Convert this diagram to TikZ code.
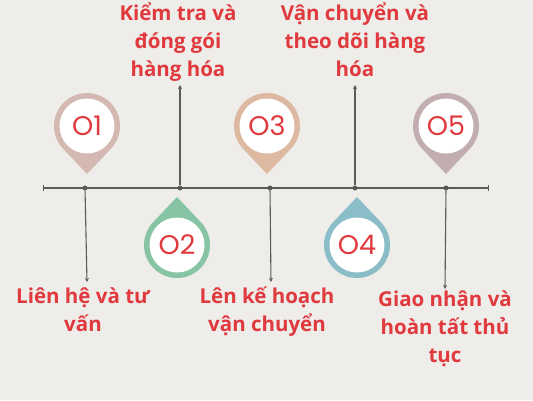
\documentclass[tikz,border=0pt]{standalone}
\usepackage{fontspec}
\setmainfont{Open Sans}
\newfontfamily\numfont{Poppins}
\usetikzlibrary{arrows.meta}
\definecolor{bg}{HTML}{EEEDE9}
\definecolor{axis}{HTML}{5A5A5A}
\definecolor{txtred}{HTML}{E0393E}
\definecolor{pinA}{HTML}{D3B9B2}
\definecolor{pinB}{HTML}{86C4A4}
\definecolor{pinC}{HTML}{DDB9A2}
\definecolor{pinD}{HTML}{8BBDC9}
\definecolor{pinE}{HTML}{C2ADB0}
\begin{document}
\begin{tikzpicture}[x=1pt,y=-1pt,
  pin/.pic={\fill (0,48) -- (136.6:33) arc[start angle=136.6,end angle=403.4,radius=33] -- cycle;
            \fill[white] (0,0) circle[radius=27.5];},
  num/.style={font=\numfont\fontsize{27}{27}\selectfont, text=txtred, inner sep=0pt},
  lbl/.style={font=\bfseries\fontsize{20.5}{28}\selectfont, text=txtred, align=center, inner sep=0pt, anchor=base},
  dot/.style={circle, fill=axis, minimum size=5pt, inner sep=0pt},
  conn/.style={draw=axis, line width=1.1pt, -{Stealth[length=4pt,width=4pt]}}]
\fill[bg] (0,0) rectangle (533,400);
\useasboundingbox (0,0) rectangle (533,400);
% timeline
\coordinate (tl) at (43,188);
\coordinate (tr) at (489,188);
\draw[axis, line width=1.1pt, {Bar[width=6pt]}-{Bar[width=6pt]}] (tl) -- (tr);
% pins
\pic[fill=pinA] at (87,126) {pin};
\pic[fill=pinC] at (267,126) {pin};
\pic[fill=pinE] at (446,126) {pin};
\pic[fill=pinB, rotate=180] at (177,245) {pin};
\pic[fill=pinD, rotate=180] at (357,245) {pin};
\node[num] (n1) at (87,126) {O1};
\node[num] (n3) at (267,126) {O3};
\node[num] (n5) at (446,126) {O5};
\node[num] (n2) at (177,245) {O2};
\node[num] (n4) at (357,245) {O4};
% dots
\node[dot] (d1) at (85,188) {};
\node[dot] (d2) at (180,188) {};
\node[dot] (d3) at (270,188) {};
\node[dot] (d4) at (355,188) {};
\node[dot] (d5) at (446,188) {};
% arrow ends
\coordinate (e1) at (87,282);
\coordinate (e2) at (180,85);
\coordinate (e3) at (271,282);
\coordinate (e4) at (355,85);
\coordinate (e5) at (445,289);
\draw[conn] (d1) -- (e1);
\draw[conn] (d2) -- (e2);
\draw[conn] (d3) -- (e3);
\draw[conn] (d4) -- (e4);
\draw[conn] (d5) -- (e5);
% labels (anchor = baseline of last line)
\node[lbl] (l1) at (83,331) {Liên hệ và tư\\vấn};
\node[lbl] (l2) at (178,76) {Kiểm tra và\\đóng gói\\hàng hóa};
\node[lbl] (l3) at (267,331) {Lên kế hoạch\\vận chuyển};
\node[lbl] (l4) at (355,76) {Vận chuyển và\\theo dõi hàng\\hóa};
\node[lbl] (l5) at (445,362) {Giao nhận và\\hoàn tất thủ\\tục};
\end{tikzpicture}
\end{document}
